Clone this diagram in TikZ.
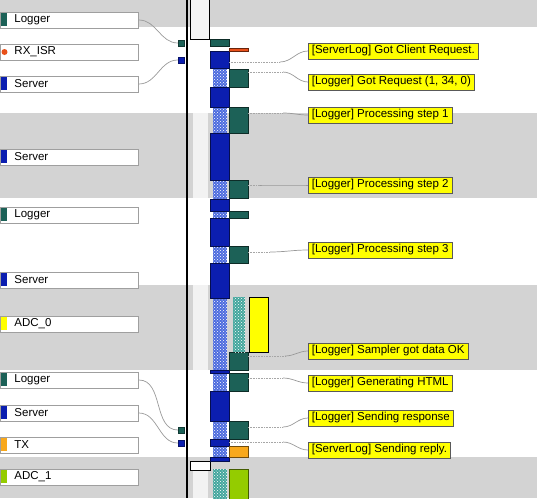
\documentclass[tikz,border=0pt]{standalone}
\usepackage{fontspec}
\setmainfont{Liberation Sans}
\usetikzlibrary{patterns}

\definecolor{band}{HTML}{D3D3D3}
\definecolor{srv}{HTML}{0B1EB0}
\definecolor{lgr}{HTML}{1C6157}
\definecolor{rxisr}{HTML}{E8501A}
\definecolor{txo}{HTML}{F8A81C}
\definecolor{adcy}{HTML}{FFFF00}
\definecolor{adcg}{HTML}{94CC00}
\definecolor{hatchb}{HTML}{3557DA}
\definecolor{hatcht}{HTML}{2A9A90}

\begin{document}
\begin{tikzpicture}[
  x=1pt, y=-1pt,
  every node/.style={font=\fontsize{11.5}{13}\selectfont},
  lbl/.style={draw=gray!75, fill=white, line width=0.9pt, minimum height=16, inner ysep=0, inner xsep=14pt, text width=110pt, align=left, anchor=west},
  note/.style={draw=gray!70!black, fill=adcy, line width=0.6pt, minimum height=16, inner ysep=0, inner xsep=3.5pt, anchor=west},
  chip/.style={fill=#1, draw=#1!60!black, minimum size=6, inner sep=0},
  blk/.style={fill=#1, draw=#1!45!black, line width=0.6pt},
  hatch/.style={preaction={fill=#1!88!white}, pattern=crosshatch dots, pattern color=white},
  wire/.style={draw=gray!80, line width=0.7pt},
  dots/.style={draw=gray!70, line width=0.6pt, densely dotted}
]
\useasboundingbox (0,0) rectangle (540,498);

\fill[band] (0,0) rectangle (537,27);
\fill[band] (0,113) rectangle (537,198);
\fill[band] (0,285) rectangle (537,370);
\fill[band] (0,457) rectangle (537,498);
\fill[gray!10] (193,113) rectangle (208,198);
\fill[gray!10] (193,285) rectangle (208,370);
\fill[gray!10] (193,470) rectangle (208,498);
\draw[line width=1.6pt] (187,0) -- (187,498);
\draw[line width=0.8pt, fill=gray!8] (190,-1) rectangle (209,39);
\draw[line width=0.8pt, fill=white] (190,461) rectangle (210,470);

\foreach \id/\y/\c/\t in {lg1/20/lgr/Logger, sv1/84/srv/Server, sv2/157/srv/Server,
    lg2/215/lgr/Logger, sv3/280/srv/Server, ad0/324/adcy/ADC\_0, lg3/380/lgr/Logger,
    sv4/413/srv/Server, tx/445/txo/TX, ad1/477/adcg/ADC\_1}{
  \node[lbl] (\id) at (0,\y) {\t};
  \fill[\c] (\id.north west) ++(0.5,1.5) rectangle ++(6.5,13);
}
\node[lbl] (rx) at (0,52) {RX\_ISR};
\fill[rxisr] ([xshift=4.5pt]rx.west) circle (3);

\node[chip=lgr] (m1) at (181,43) {};
\node[chip=srv] (m2) at (181,60) {};
\node[chip=lgr] (m3) at (181,430) {};
\node[chip=srv] (m4) at (181,443) {};
\draw[wire] (lg1.east) to[out=0,in=180] (m1.west);
\draw[wire] (sv1.east) to[out=0,in=180] (m2.west);
\draw[wire] (lg3.east) to[out=0,in=180] (m3.west);
\draw[wire] (sv4.east) to[out=0,in=180] (m4.west);

\foreach \a/\b in {68/87, 107/133, 180/199, 211/218, 246/263, 298/370, 373/391, 421/439, 446/457}
  \fill[hatch=hatchb] (213,\a) rectangle (227,\b);
\foreach \a/\b in {51/68, 87/107, 133/180, 199/211, 218/246, 263/298, 370/373, 391/421, 439/446, 457/461}
  \draw[blk=srv] (210,\a) rectangle (229,\b);
\foreach \a/\b in {69/87, 107/133, 180/198, 211/218, 246/263, 352/370, 373/391, 421/439}
  \draw[blk=lgr] (229,\a) rectangle (248,\b);
\draw[blk=lgr] (210,39) rectangle (229,46);
\draw[blk=rxisr] (229,48) rectangle (248,51);
\draw[blk=txo] (229,446) rectangle (248,457);
\fill[hatch=hatcht] (233,297) rectangle (245,352);
\draw[fill=adcy, line width=0.6pt] (249,297) rectangle (268,352);
\fill[hatch=hatcht] (213,469) rectangle (227,500);
\draw[blk=adcg] (229,469) rectangle (248,500);

\node[note] (n1) at (308,51) {[ServerLog] Got Client Request.};
\node[note] (n2) at (308,82) {[Logger] Got Request (1, 34, 0)};
\node[note] (n3) at (308,115) {[Logger] Processing step 1};
\node[note] (n4) at (308,185) {[Logger] Processing step 2};
\node[note] (n5) at (308,250) {[Logger] Processing step 3};
\node[note] (n6) at (308,351) {[Logger] Sampler got data OK};
\node[note] (n7) at (308,383) {[Logger] Generating HTML};
\node[note] (n8) at (308,418) {[Logger] Sending response};
\node[note] (n9) at (308,450) {[ServerLog] Sending reply.};

\foreach \i/\x/\y/\k in {1/229/62/280, 2/248/72/283, 3/248/113/283, 4/248/185/260,
    5/248/252/270, 6/248/356/285, 7/248/378/283, 8/248/427/283, 9/229/442/283}{
  \coordinate (s\i) at (\x,\y);
  \coordinate (k\i) at (\k,\y);
  \draw[dots] (s\i) -- (k\i);
  \draw[wire] (k\i) to[out=0,in=180] (n\i.west);
}
\end{tikzpicture}
\end{document}
